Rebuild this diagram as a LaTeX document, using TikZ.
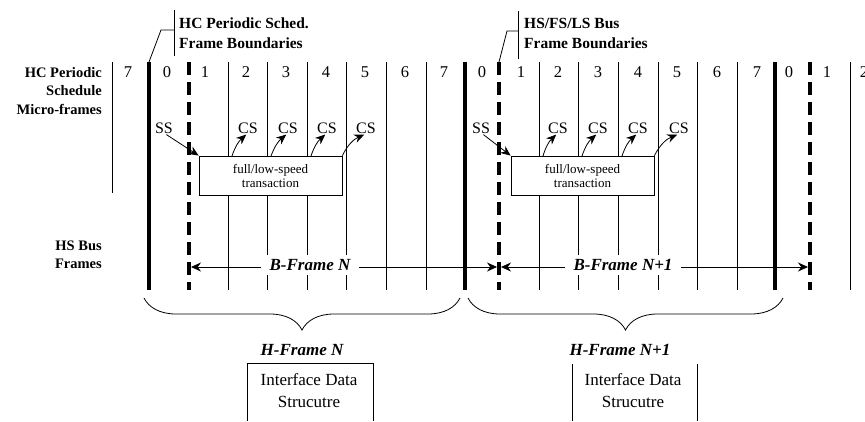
\documentclass[tikz,border=0pt]{standalone}
\usepackage{fontspec}
\setmainfont{Liberation Serif}
\usetikzlibrary{arrows.meta,decorations.pathreplacing}
\begin{document}
\begin{tikzpicture}[x=1pt,y=-1pt,
  thinln/.style={line width=0.8pt},
  thickln/.style={line width=3.5pt},
  busln/.style={line width=3.5pt, dash pattern=on 13pt off 7pt},
  digit/.style={font=\fontsize{16.5}{16.5}\selectfont, inner sep=0pt},
  lbl/.style={font=\fontsize{14.5}{18.5}\selectfont\bfseries, align=right, inner sep=0pt},
  callout/.style={font=\fontsize{15.5}{20}\selectfont\bfseries, align=left, inner sep=0pt},
  sscs/.style={font=\fontsize{16}{16}\selectfont, inner sep=1pt},
  trans/.style={draw, thinln, fill=white, font=\fontsize{13}{14}\selectfont, align=center, inner sep=0pt, minimum width=143pt, minimum height=39pt},
  arr/.style={thinln, -{Stealth[length=10pt,width=8.5pt]}},
  barr/.style={thinln, {Stealth[length=10pt,width=9pt]}-{Stealth[length=10pt,width=9pt]}},
  bframe/.style={font=\fontsize{17}{17}\selectfont\bfseries\itshape, fill=white, inner xsep=9pt, inner ysep=4pt},
  hframe/.style={font=\fontsize{17}{17}\selectfont\bfseries\itshape, fill=white, inner xsep=9pt, inner ysep=7pt},
  ids/.style={font=\fontsize{17}{22}\selectfont, align=center, inner sep=0pt},
  brc/.style={thinln, decorate, decoration={brace, amplitude=32pt}}
]
\useasboundingbox (0,0) rectangle (865,421);

% vertical micro-frame lines
\draw[thinln] (112,62) -- (112,193);
\foreach \x in {228,267,307,346,386,426,539,578,618,658,697,737,850}
  \draw[thinln] (\x,62) -- (\x,290);
\foreach \x in {149,465,775}
  \draw[thickln] (\x,62) -- (\x,290);
\foreach \x in {189,499,810}
  \draw[busln] (\x,62) -- (\x,290);

% micro-frame numbers
\foreach \x/\t in {128/7,167/0,205/1,246/2,286/3,326/4,365/5,405/6,444/7,
                   482/0,521/1,558/2,598/3,638/4,677/5,717/6,757/7,789/0,827/1,864/2}
  \node[digit] at (\x,72) {\t};

% left labels
\node[lbl, anchor=east] (hcps) at (102,91) {HC Periodic\\Schedule\\Micro-frames};
\node[lbl, anchor=east] (hsbf) at (102,255) {HS Bus\\Frames};

% callouts
\node[callout, anchor=west] (co1) at (179,33) {HC Periodic Sched.\\Frame Boundaries};
\coordinate (co1a) at (174,10);
\coordinate (co1b) at (174,56);
\coordinate (co1c) at (174,30);
\coordinate (co1d) at (161,30);
\coordinate (co1e) at (149,62);
\draw[thinln] (co1a) -- (co1b);
\draw[thinln] (co1c) -- (co1d) -- (co1e);

\node[callout, anchor=west] (co2) at (524,33) {HS/FS/LS Bus\\Frame Boundaries};
\coordinate (co2a) at (518,11);
\coordinate (co2b) at (518,59);
\coordinate (co2c) at (518,31);
\coordinate (co2d) at (507,31);
\coordinate (co2e) at (499,62);
\draw[thinln] (co2a) -- (co2b);
\draw[thinln] (co2c) -- (co2d) -- (co2e);

% transactions
\node[trans] (box1) at (270.5,175.5) {full/low-speed\\transaction};
\node[trans] (box2) at (582.5,175.5) {full/low-speed\\transaction};

% SS / CS labels, frame N
\node[sscs] (ss1) at (164,128) {SS};
\node[sscs] (cs1a) at (248,128) {CS};
\node[sscs] (cs1b) at (288,128) {CS};
\node[sscs] (cs1c) at (327,128) {CS};
\node[sscs] (cs1d) at (366,128) {CS};
\coordinate (s1a) at (232,156);
\coordinate (s1b) at (271,156);
\coordinate (s1c) at (311,156);
\draw[arr] (ss1.290) -- (box1.north west);
\draw[arr] (s1a) to[bend left=15] (cs1a.255);
\draw[arr] (s1b) to[bend left=15] (cs1b.255);
\draw[arr] (s1c) to[bend left=15] (cs1c.255);
\draw[arr] (box1.north east) to[bend left=20] (cs1d.255);

% SS / CS labels, frame N+1
\node[sscs] (ss2) at (481,128) {SS};
\node[sscs] (cs2a) at (558,128) {CS};
\node[sscs] (cs2b) at (598,128) {CS};
\node[sscs] (cs2c) at (638,128) {CS};
\node[sscs] (cs2d) at (679,128) {CS};
\coordinate (s2a) at (543,156);
\coordinate (s2b) at (582,156);
\coordinate (s2c) at (622,156);
\draw[arr] (ss2.290) -- (box2.north west);
\draw[arr] (s2a) to[bend left=15] (cs2a.255);
\draw[arr] (s2b) to[bend left=15] (cs2b.255);
\draw[arr] (s2c) to[bend left=15] (cs2c.255);
\draw[arr] (box2.north east) to[bend left=20] (cs2d.255);

% B-frames
\coordinate (b1l) at (191,267);
\coordinate (b1r) at (497,267);
\coordinate (b2l) at (501,267);
\coordinate (b2r) at (808,267);
\draw[barr] (b1l) -- (b1r);
\draw[barr] (b2l) -- (b2r);
\node[bframe] (bf1) at (310,265) {B-Frame N};
\node[bframe] (bf2) at (623,265) {B-Frame N+1};

% H-frame braces
\coordinate (h1r) at (460,298);
\coordinate (h1l) at (144,298);
\coordinate (h2r) at (783,298);
\coordinate (h2l) at (468,298);
\draw[brc] (h1r) -- (h1l);
\draw[brc] (h2r) -- (h2l);

% interface data structures
\coordinate (i1a) at (247,421);
\coordinate (i1b) at (247,363);
\coordinate (i1c) at (373,363);
\coordinate (i1d) at (373,421);
\draw[thinln] (i1a) -- (i1b) -- (i1c) -- (i1d);
\coordinate (i2a) at (572,421);
\coordinate (i2b) at (572,364);
\coordinate (i2c) at (697,364);
\coordinate (i2d) at (697,421);
\draw[thinln] (i2a) -- (i2b);
\draw[thinln] (i2c) -- (i2d);
\node[hframe] (hf1) at (302,350) {H-Frame N};
\node[hframe] (hf2) at (620,350) {H-Frame N+1};
\node[ids] (id1) at (309,391) {Interface Data\\Strucutre};
\node[ids] (id2) at (633,391) {Interface Data\\Strucutre};
\end{tikzpicture}
\end{document}
